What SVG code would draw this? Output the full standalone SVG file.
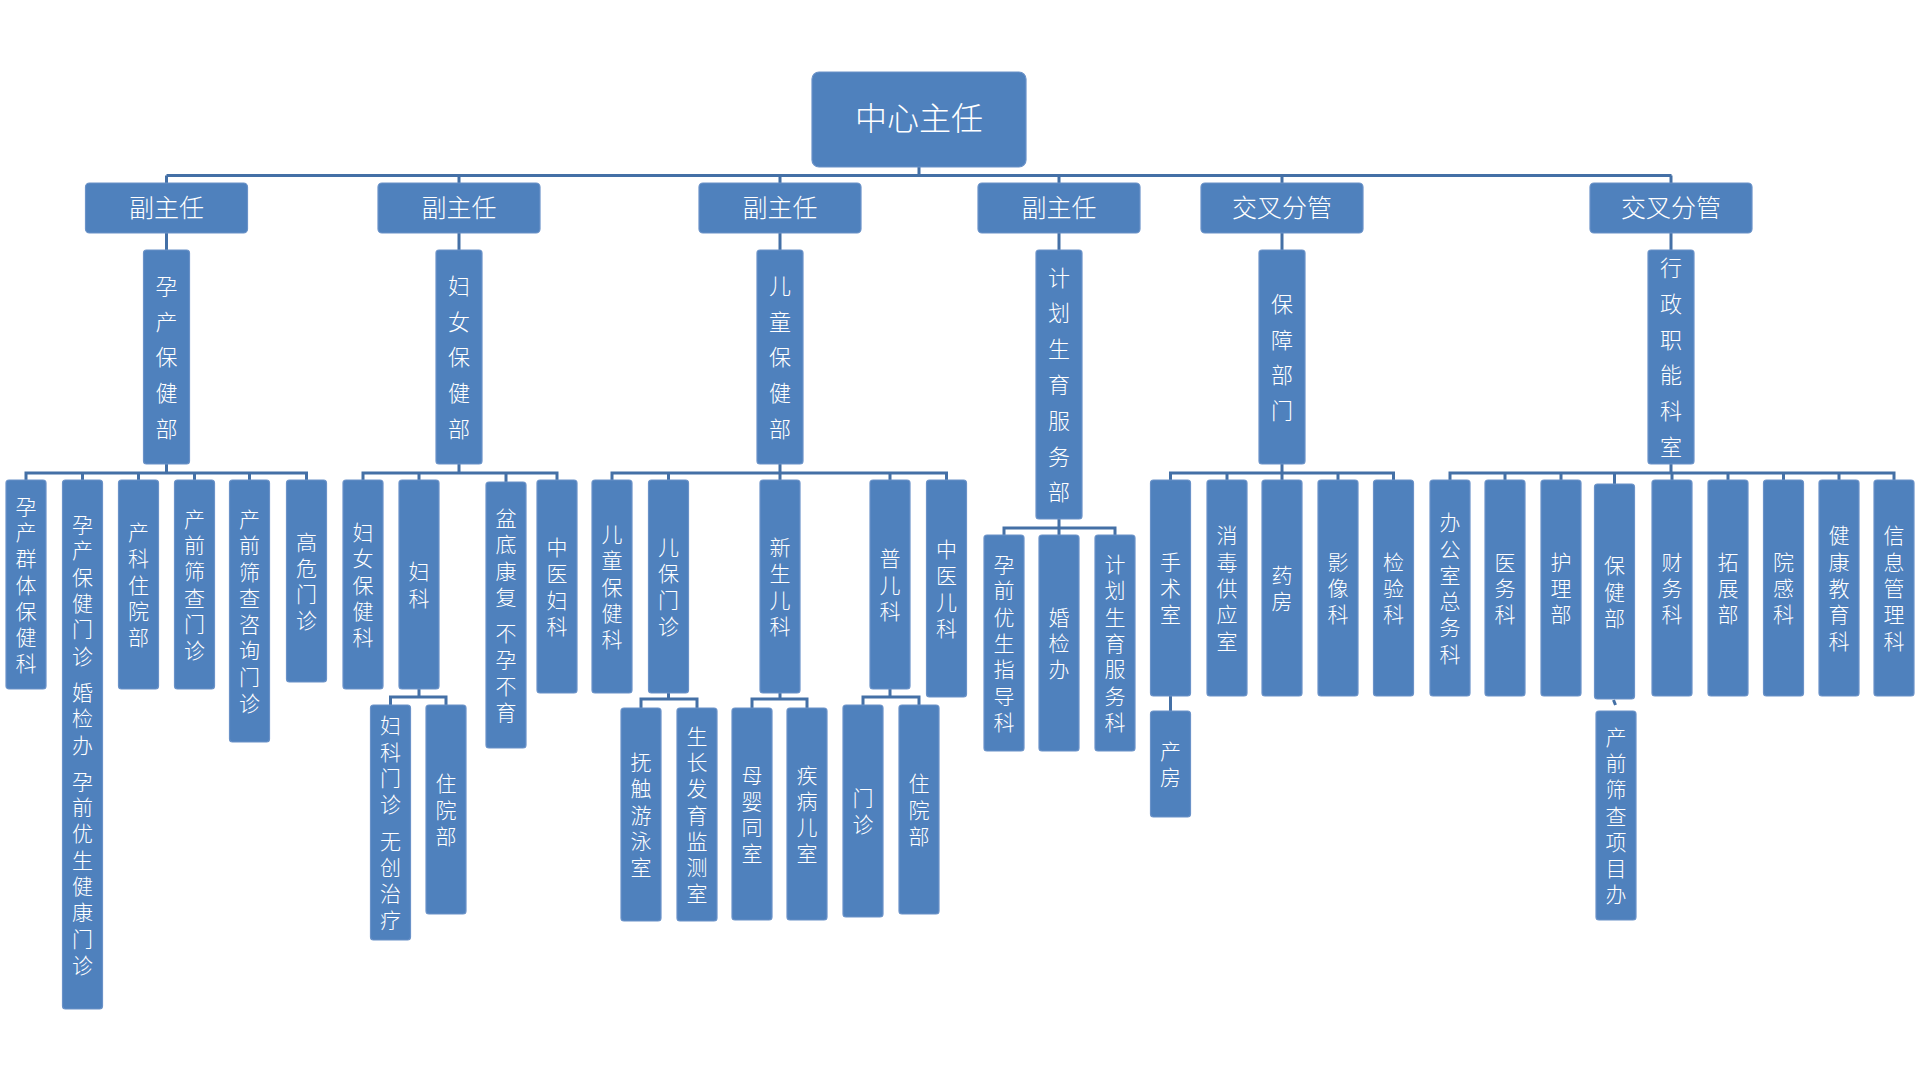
<svg xmlns="http://www.w3.org/2000/svg" width="1920" height="1083" viewBox="0 0 1920 1083">
<style>
.n{fill:#4F81BD;stroke:#6A92C8;stroke-width:1.2}
text{fill:#FFFFFF;font-family:"Noto Sans CJK SC","Noto Sans",sans-serif;font-weight:300;text-anchor:middle}
.t1{font-size:32px;dominant-baseline:central}
.t2{font-size:25px;dominant-baseline:central}
.v2{font-size:22px;letter-spacing:13.8px;writing-mode:vertical-rl}
.v3{font-size:21px;letter-spacing:5.3px;writing-mode:vertical-rl}
.c{fill:none;stroke:#4470A6;stroke-width:3}
</style>
<rect width="1920" height="1083" fill="#FFFFFF"/>
<g id="connectors">
<path class="c" stroke-width="3.5" d="M919 167V175.5M166.5 175.5H1671.5"/>
<path class="c" d="M166.5 175.5V183M459 175.5V183M780 175.5V183M1059 175.5V183M1282 175.5V183M1671 175.5V183
M166.5 233V250M459 233V250M780 233V250M1059 233V250M1282 233V250M1671 233V250
M166.5 464V473M26 480V473H306.5V480M82.5 473V480M138.5 473V480M194.5 473V480M249.5 473V480
M459 464V473M363 480V473H557V480M419 473V480M506 473V482
M419 689V697M390.5 705V697H446V705
M780 464V473M612 480V473H946.5V480M668.5 473V480M780 473V480M890 473V480
M668.5 693V699M641 708V699H697V708
M780 693V699M752 708V699H807V708
M890 689V697M863 705V697H919V705
M1059 519V528M1004 535V528H1115V535M1059 528V535
M1282 464V473M1170.5 480V473H1393.5V480M1227 473V480M1282 473V480M1338 473V480
M1170.5 696V711
M1671 464V473M1450 480V473H1894V480M1505 473V480M1561 473V480M1614.5 473V484M1672 473V480M1728 473V480M1783.5 473V480M1839 473V480
M1613.5 700L1615.5 705"/>
</g>
<g id="n-zhuren"><rect class="n" x="812" y="72" width="214" height="95" rx="7"/><text class="t1" x="919" y="116">中心主任</text></g>
<g id="n-fu1"><rect class="n" x="85.5" y="183" width="162" height="50" rx="4"/><text class="t2" x="166.5" y="206">副主任</text></g>
<g id="n-fu2"><rect class="n" x="378" y="183" width="162" height="50" rx="4"/><text class="t2" x="459" y="206">副主任</text></g>
<g id="n-fu3"><rect class="n" x="699" y="183" width="162" height="50" rx="4"/><text class="t2" x="780" y="206">副主任</text></g>
<g id="n-fu4"><rect class="n" x="978" y="183" width="162" height="50" rx="4"/><text class="t2" x="1059" y="206">副主任</text></g>
<g id="n-jc1"><rect class="n" x="1201" y="183" width="162" height="50" rx="4"/><text class="t2" x="1282" y="206">交叉分管</text></g>
<g id="n-jc2"><rect class="n" x="1590" y="183" width="162" height="50" rx="4"/><text class="t2" x="1671" y="206">交叉分管</text></g>

<g id="n-yunchan"><rect class="n" x="143.5" y="250" width="46" height="214" rx="3"/><text class="v2" x="166.5" y="364">孕产保健部</text></g>
<g id="n-funv"><rect class="n" x="436" y="250" width="46" height="214" rx="3"/><text class="v2" x="459" y="364">妇女保健部</text></g>
<g id="n-ertong"><rect class="n" x="757" y="250" width="46" height="214" rx="3"/><text class="v2" x="780" y="364">儿童保健部</text></g>
<g id="n-jihua"><rect class="n" x="1036" y="250" width="46" height="269" rx="3"/><text class="v2" x="1059" y="391.5">计划生育服务部</text></g>
<g id="n-baozhang"><rect class="n" x="1259" y="250" width="46" height="214" rx="3"/><text class="v2" x="1282" y="364">保障部门</text></g>
<g id="n-xingzheng"><rect class="n" x="1648" y="250" width="46" height="214" rx="3"/><text class="v2" x="1671" y="364">行政职能科室</text></g>

<g id="n-g1a"><rect class="n" x="6" y="480" width="40" height="209" rx="3"/><text class="v3" x="26" y="587.2">孕产群体保健科</text></g>
<g id="n-g1b"><rect class="n" x="62.5" y="480" width="40" height="529" rx="3"/><text class="v3" x="82.5" y="747.2">孕产保健门诊 婚检办 孕前优生健康门诊</text></g>
<g id="n-g1c"><rect class="n" x="118.5" y="480" width="40" height="209" rx="3"/><text class="v3" x="138.5" y="587.2">产科住院部</text></g>
<g id="n-g1d"><rect class="n" x="174.5" y="480" width="40" height="209" rx="3"/><text class="v3" x="194.5" y="587.2">产前筛查门诊</text></g>
<g id="n-g1e"><rect class="n" x="229.5" y="480" width="40" height="262" rx="3"/><text class="v3" x="249.5" y="613.7">产前筛查咨询门诊</text></g>
<g id="n-g1f"><rect class="n" x="286.5" y="480" width="40" height="202" rx="3"/><text class="v3" x="306.5" y="583.7">高危门诊</text></g>

<g id="n-g2a"><rect class="n" x="343" y="480" width="40" height="209" rx="3"/><text class="v3" x="363" y="587.2">妇女保健科</text></g>
<g id="n-g2b"><rect class="n" x="399" y="480" width="40" height="209" rx="3"/><text class="v3" x="419" y="587.2">妇科</text></g>
<g id="n-g2c"><rect class="n" x="486" y="482" width="40" height="266" rx="3"/><text class="v3" x="506" y="617.7">盆底康复 不孕不育</text></g>
<g id="n-g2d"><rect class="n" x="537" y="480" width="40" height="213" rx="3"/><text class="v3" x="557" y="589.2">中医妇科</text></g>
<g id="n-g2e"><rect class="n" x="370.5" y="705" width="40" height="235" rx="3"/><text class="v3" x="390.5" y="825.2">妇科门诊 无创治疗</text></g>
<g id="n-g2f"><rect class="n" x="426" y="705" width="40" height="209" rx="3"/><text class="v3" x="446" y="812.2">住院部</text></g>

<g id="n-g3a"><rect class="n" x="592" y="480" width="40" height="213" rx="3"/><text class="v3" x="612" y="589.2">儿童保健科</text></g>
<g id="n-g3b"><rect class="n" x="648.5" y="480" width="40" height="213" rx="3"/><text class="v3" x="668.5" y="589.2">儿保门诊</text></g>
<g id="n-g3c"><rect class="n" x="760" y="480" width="40" height="213" rx="3"/><text class="v3" x="780" y="589.2">新生儿科</text></g>
<g id="n-g3d"><rect class="n" x="870" y="480" width="40" height="209" rx="3"/><text class="v3" x="890" y="587.2">普儿科</text></g>
<g id="n-g3e"><rect class="n" x="926.5" y="480" width="40" height="217" rx="3"/><text class="v3" x="946.5" y="591.2">中医儿科</text></g>
<g id="n-g3f"><rect class="n" x="621" y="708" width="40" height="213" rx="3"/><text class="v3" x="641" y="817.2">抚触游泳室</text></g>
<g id="n-g3g"><rect class="n" x="677" y="708" width="40" height="213" rx="3"/><text class="v3" x="697" y="817.2">生长发育监测室</text></g>
<g id="n-g3h"><rect class="n" x="732" y="708" width="40" height="212" rx="3"/><text class="v3" x="752" y="816.7">母婴同室</text></g>
<g id="n-g3i"><rect class="n" x="787" y="708" width="40" height="212" rx="3"/><text class="v3" x="807" y="816.7">疾病儿室</text></g>
<g id="n-g3j"><rect class="n" x="843" y="705" width="40" height="212" rx="3"/><text class="v3" x="863" y="813.7">门诊</text></g>
<g id="n-g3k"><rect class="n" x="899" y="705" width="40" height="209" rx="3"/><text class="v3" x="919" y="812.2">住院部</text></g>

<g id="n-g4a"><rect class="n" x="984" y="535" width="40" height="216" rx="3"/><text class="v3" x="1004" y="645.7">孕前优生指导科</text></g>
<g id="n-g4b"><rect class="n" x="1039" y="535" width="40" height="216" rx="3"/><text class="v3" x="1059" y="645.7">婚检办</text></g>
<g id="n-g4c"><rect class="n" x="1095" y="535" width="40" height="216" rx="3"/><text class="v3" x="1115" y="645.7">计划生育服务科</text></g>

<g id="n-g5a"><rect class="n" x="1150.5" y="480" width="40" height="216" rx="3"/><text class="v3" x="1170.5" y="590.7">手术室</text></g>
<g id="n-g5b"><rect class="n" x="1207" y="480" width="40" height="216" rx="3"/><text class="v3" x="1227" y="590.7">消毒供应室</text></g>
<g id="n-g5c"><rect class="n" x="1262" y="480" width="40" height="216" rx="3"/><text class="v3" x="1282" y="590.7">药房</text></g>
<g id="n-g5d"><rect class="n" x="1318" y="480" width="40" height="216" rx="3"/><text class="v3" x="1338" y="590.7">影像科</text></g>
<g id="n-g5e"><rect class="n" x="1373.5" y="480" width="40" height="216" rx="3"/><text class="v3" x="1393.5" y="590.7">检验科</text></g>
<g id="n-g5f"><rect class="n" x="1150.5" y="711" width="40" height="106" rx="3"/><text class="v3" x="1170.5" y="766.7">产房</text></g>

<g id="n-g6a"><rect class="n" x="1430" y="480" width="40" height="216" rx="3"/><text class="v3" x="1450" y="590.7">办公室总务科</text></g>
<g id="n-g6b"><rect class="n" x="1485" y="480" width="40" height="216" rx="3"/><text class="v3" x="1505" y="590.7">医务科</text></g>
<g id="n-g6c"><rect class="n" x="1541" y="480" width="40" height="216" rx="3"/><text class="v3" x="1561" y="590.7">护理部</text></g>
<g id="n-g6d"><rect class="n" x="1594.5" y="484" width="40" height="215" rx="3"/><text class="v3" x="1614.5" y="594.2">保健部</text></g>
<g id="n-g6e"><rect class="n" x="1652" y="480" width="40" height="216" rx="3"/><text class="v3" x="1672" y="590.7">财务科</text></g>
<g id="n-g6f"><rect class="n" x="1708" y="480" width="40" height="216" rx="3"/><text class="v3" x="1728" y="590.7">拓展部</text></g>
<g id="n-g6g"><rect class="n" x="1763.5" y="480" width="40" height="216" rx="3"/><text class="v3" x="1783.5" y="590.7">院感科</text></g>
<g id="n-g6h"><rect class="n" x="1819" y="480" width="40" height="216" rx="3"/><text class="v3" x="1839" y="590.7">健康教育科</text></g>
<g id="n-g6i"><rect class="n" x="1874" y="480" width="40" height="216" rx="3"/><text class="v3" x="1894" y="590.7">信息管理科</text></g>
<g id="n-g6j"><rect class="n" x="1596" y="711" width="40" height="209" rx="3"/><text class="v3" x="1616" y="818.2">产前筛查项目办</text></g>
</svg>
